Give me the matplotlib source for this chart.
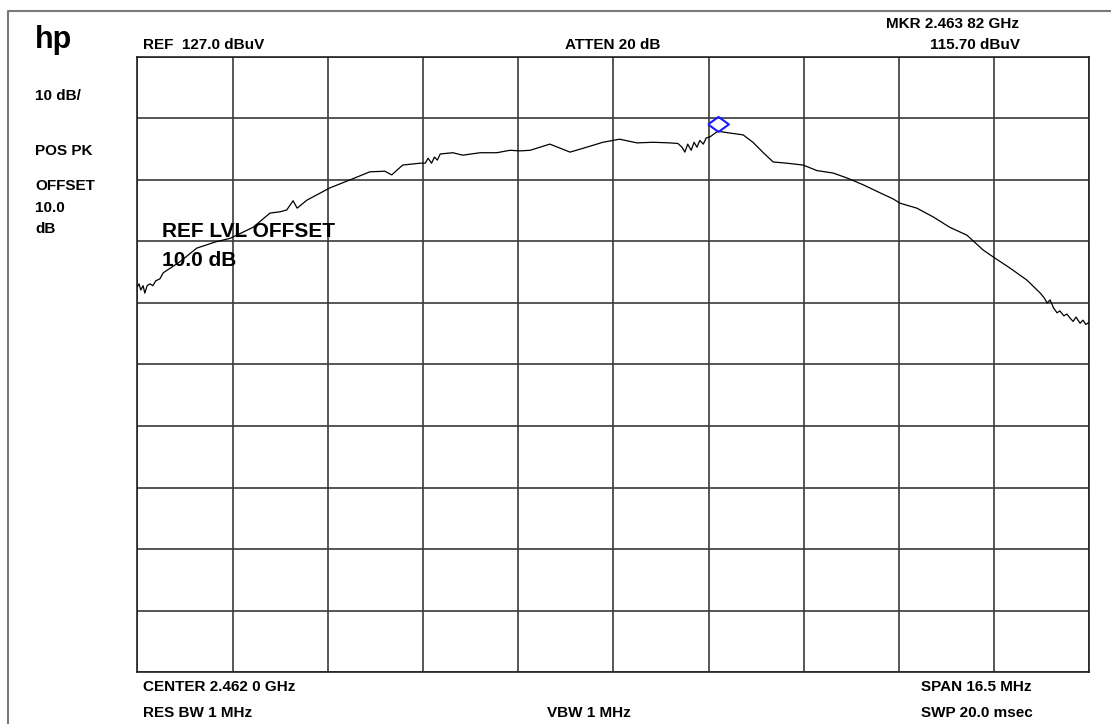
# spectrum analyzer screen capture: HP style display of a 2.462 GHz carrier
import numpy as np
import matplotlib.pyplot as plt
from matplotlib.lines import Line2D

plt.rcParams['font.family'] = ['Liberation Sans', 'DejaVu Sans']
plt.rcParams['font.weight'] = 'bold'

# instrument settings
center_ghz = 2.462
span_mhz = 16.5
ref_level = 127.0
db_per_div = 10.0
mkr_freq_ghz = 2.46382
mkr_level = 115.70

# trace: offset from center (MHz) and level (dBuV)
trace_offset_mhz = [-8.25, -8.22, -8.19, -8.15, -8.12, -8.08, -8.03, -7.98, -7.93, -7.86,
                    -7.80, -7.51, -7.22, -6.90, -6.64, -6.24,
                    -5.95, -5.78, -5.66, -5.55, -5.48, -5.31, -4.91, -4.56, -4.22, -3.96,
                    -3.84, -3.65, -3.35, -3.26, -3.21, -3.15, -3.10, -3.05, -3.00,
                    -2.78, -2.61, -2.31, -2.02, -1.79,
                    -1.62, -1.44, -1.10, -0.75, -0.46, -0.18, 0.11, 0.41, 0.69, 0.98,
                    1.12, 1.19, 1.24, 1.29, 1.35, 1.40, 1.45, 1.50, 1.56, 1.61, 1.68,
                    1.81, 2.02, 2.25, 2.42, 2.59,
                    2.77, 3.01, 3.29, 3.53, 3.81, 4.05, 4.33, 4.62, 4.85, 4.97,
                    5.26, 5.54, 5.83, 6.13, 6.41, 6.58, 6.87, 7.17,
                    7.40, 7.47, 7.52, 7.57, 7.63, 7.69, 7.74, 7.81, 7.86, 7.92,
                    7.97, 8.02, 8.09, 8.14, 8.19, 8.25]
trace_level = [89.6, 90.1, 89.1, 89.8, 88.6, 89.8, 90.1, 89.8, 90.6, 90.9,
               91.9, 93.7, 95.9, 96.9, 97.5, 99.3,
               101.6, 101.8, 102.1, 103.6, 102.4, 103.7, 105.7, 107.0, 108.3, 108.4,
               107.8, 109.4, 109.7, 109.7, 110.5, 109.7, 110.7, 110.2, 111.2,
               111.4, 111.0, 111.4, 111.4, 111.8,
               111.7, 111.8, 112.8, 111.5, 112.3, 113.1, 113.6, 113.0, 113.1, 113.0,
               112.9, 112.3, 111.5, 112.8, 111.8, 113.1, 112.3, 113.4, 112.8, 113.8, 114.0,
               114.9, 114.6, 114.3, 113.1, 111.5,
               109.9, 109.7, 109.4, 108.5, 108.1, 107.3, 106.2, 104.9, 103.9, 103.2,
               102.4, 101.0, 99.3, 98.0, 95.6, 94.5, 92.7, 90.7,
               88.6, 87.8, 87.0, 87.5, 86.2, 85.4, 85.7, 84.9, 85.2, 84.5,
               84.0, 84.7, 83.7, 84.2, 83.5, 83.9]

W, H = 1111, 724
fig = plt.figure(figsize=(W / 100, H / 100), dpi=100)


def px(x, y):
    # pixel position (from top-left) to figure fraction
    return x / W, 1 - y / H


# outer frame of the screen
fig.add_artist(Line2D([8 / W, 8 / W, 1.0], [0.0, 1 - 11 / H, 1 - 11 / H],
                      transform=fig.transFigure, color='#7a7a7a', lw=1.5))

ax = fig.add_axes([137.3 / W, 1 - 672.3 / H, 952 / W, 615.6 / H])
f0 = center_ghz - span_mhz / 2000
f1 = center_ghz + span_mhz / 2000
ax.set_xlim(f0, f1)
ax.set_ylim(ref_level - 10 * db_per_div, ref_level)
ax.set_xticks(np.linspace(f0, f1, 11))
ax.set_yticks(np.linspace(ref_level - 10 * db_per_div, ref_level, 11))
ax.tick_params(length=0, labelbottom=False, labelleft=False)
ax.grid(True, color='#3a3a3a', lw=1.2)
for s in ax.spines.values():
    s.set_color('#222222')
    s.set_linewidth(1.2)

freq = center_ghz + np.array(trace_offset_mhz) / 1000
ax.plot(freq, trace_level, color='black', lw=0.9, zorder=3)

# marker diamond (wider than tall), drawn slightly above the marker point
diamond = [(-1, 0.2), (0, 0.92), (1, 0.2), (0, -0.52), (-1, 0.2)]
ax.plot([mkr_freq_ghz], [mkr_level], marker=diamond, markersize=15,
        markerfacecolor='none', markeredgecolor='#1a1aff', markeredgewidth=1.5,
        linestyle='none', zorder=4)

small = 11
fig.text(*px(35, 48), 'hp', fontsize=22, va='baseline')
fig.text(*px(143, 49), 'REF  127.0 dBuV', fontsize=small, va='baseline')
fig.text(*px(613, 49), 'ATTEN 20 dB', fontsize=small, va='baseline', ha='center')
fig.text(*px(886, 28), 'MKR 2.463 82 GHz', fontsize=small, va='baseline')
fig.text(*px(930, 49), '115.70 dBuV', fontsize=small, va='baseline')
fig.text(*px(35, 100), '10 dB/', fontsize=small, va='baseline')
fig.text(*px(35, 155), 'POS PK', fontsize=small, va='baseline')
fig.text(*px(35, 190), 'OFFSET', fontsize=small, va='baseline')
fig.text(*px(35, 212), '10.0', fontsize=small, va='baseline')
fig.text(*px(35, 233), 'dB', fontsize=small, va='baseline')
fig.text(*px(162, 237), 'REF LVL OFFSET', fontsize=15, va='baseline')
fig.text(*px(162, 266), '10.0 dB', fontsize=15, va='baseline')
fig.text(*px(143, 691), 'CENTER 2.462 0 GHz', fontsize=small, va='baseline')
fig.text(*px(143, 717), 'RES BW 1 MHz', fontsize=small, va='baseline')
fig.text(*px(547, 717), 'VBW 1 MHz', fontsize=small, va='baseline')
fig.text(*px(921, 691), 'SPAN 16.5 MHz', fontsize=small, va='baseline')
fig.text(*px(921, 717), 'SWP 20.0 msec', fontsize=small, va='baseline')

fig.savefig('out.png', dpi=100)
